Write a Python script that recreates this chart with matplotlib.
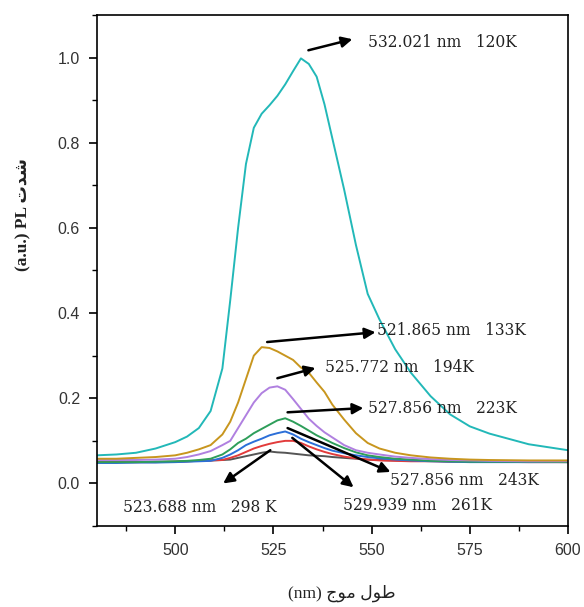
import matplotlib.pyplot as plt
from matplotlib.ticker import MultipleLocator

# wavelength grid (nm)
wl = [480, 485, 490, 495, 500, 503, 506, 509, 512, 514, 516, 518, 520, 522,
      524, 526, 528, 530, 532, 534, 536, 538, 540, 543, 546, 549, 552, 556,
      560, 565, 570, 575, 580, 590, 600]

# PL intensity at each temperature
pl_120 = [0.066, 0.068, 0.072, 0.082, 0.097, 0.11, 0.13, 0.17, 0.27, 0.43,
          0.60, 0.75, 0.835, 0.868, 0.888, 0.91, 0.937, 0.968, 0.998, 0.985,
          0.955, 0.89, 0.81, 0.69, 0.56, 0.445, 0.385, 0.315, 0.26, 0.205,
          0.162, 0.134, 0.117, 0.092, 0.078]
pl_133 = [0.058, 0.058, 0.06, 0.062, 0.066, 0.072, 0.08, 0.09, 0.115, 0.145,
          0.19, 0.245, 0.30, 0.32, 0.318, 0.31, 0.30, 0.29, 0.272, 0.26,
          0.237, 0.215, 0.185, 0.15, 0.118, 0.095, 0.082, 0.072, 0.066, 0.061,
          0.058, 0.056, 0.055, 0.054, 0.054]
pl_194 = [0.055, 0.055, 0.055, 0.056, 0.058, 0.062, 0.068, 0.076, 0.09, 0.10,
          0.13, 0.16, 0.19, 0.212, 0.225, 0.228, 0.22, 0.198, 0.175, 0.152,
          0.135, 0.12, 0.108, 0.09, 0.078, 0.072, 0.068, 0.063, 0.06, 0.057,
          0.055, 0.054, 0.053, 0.052, 0.052]
pl_223 = [0.05, 0.05, 0.05, 0.051, 0.052, 0.053, 0.055, 0.058, 0.068, 0.08,
          0.095, 0.105, 0.118, 0.128, 0.138, 0.148, 0.153, 0.145, 0.135, 0.124,
          0.113, 0.104, 0.095, 0.083, 0.073, 0.066, 0.062, 0.058, 0.056, 0.053,
          0.052, 0.051, 0.051, 0.051, 0.05]
pl_243 = [0.048, 0.048, 0.049, 0.049, 0.05, 0.051, 0.052, 0.053, 0.06, 0.068,
          0.078, 0.09, 0.098, 0.105, 0.113, 0.118, 0.122, 0.115, 0.105, 0.097,
          0.09, 0.083, 0.077, 0.071, 0.066, 0.062, 0.059, 0.056, 0.054, 0.052,
          0.051, 0.05, 0.05, 0.05, 0.05]
pl_261 = [0.05, 0.05, 0.05, 0.05, 0.051, 0.052, 0.053, 0.054, 0.055, 0.06,
          0.066, 0.074, 0.082, 0.088, 0.093, 0.097, 0.10, 0.10, 0.095, 0.087,
          0.08, 0.074, 0.069, 0.063, 0.059, 0.056, 0.054, 0.053, 0.052, 0.052,
          0.051, 0.051, 0.051, 0.05, 0.05]
pl_298 = [0.05, 0.05, 0.05, 0.051, 0.051, 0.052, 0.053, 0.054, 0.055, 0.056,
          0.06, 0.064, 0.068, 0.072, 0.075, 0.073, 0.072, 0.07, 0.068, 0.066,
          0.065, 0.064, 0.062, 0.06, 0.058, 0.056, 0.055, 0.054, 0.053, 0.053,
          0.052, 0.052, 0.052, 0.052, 0.052]

series = [pl_298, pl_261, pl_243, pl_223, pl_194, pl_133, pl_120]
colors = ['#555555', '#e23b3b', '#2c6fd8', '#2e9e5a', '#b080e0', '#c8961e', '#22b8b8']

# peak labels: text, arrow tail, arrow head, text position
peak_labels = ['532.021 nm   120K', '521.865 nm   133K', '525.772 nm   194K',
               '527.856 nm   223K', '527.856 nm   243K', '529.939 nm   261K',
               '523.688 nm   298 K']
arrow_tail = [(533.9, 1.017), (523.4, 0.332), (526.0, 0.247), (528.6, 0.167),
              (528.6, 0.130), (529.8, 0.107), (524.2, 0.078)]
arrow_head = [(545.1, 1.043), (551.0, 0.355), (535.7, 0.271), (547.9, 0.177),
              (554.8, 0.027), (545.4, -0.009), (512.2, 0.0)]
text_pos = [(549.0, 1.036), (551.3, 0.360), (538.2, 0.273), (549.0, 0.177),
            (554.8, 0.008), (542.8, -0.051), (486.7, -0.056)]

fig = plt.figure(figsize=(5.84, 6.07), dpi=100)
ax = fig.add_axes([0.1656, 0.1334, 0.807, 0.842])

for y, c in zip(series, colors):
    ax.plot(wl, y, color=c, lw=1.4)

for lab, t, h, p in zip(peak_labels, arrow_tail, arrow_head, text_pos):
    ax.annotate('', xy=h, xytext=t,
                arrowprops=dict(arrowstyle='-|>', color='black', lw=1.8,
                                mutation_scale=16, shrinkA=0, shrinkB=0))
    ax.text(p[0], p[1], lab, family='DejaVu Serif', fontsize=11.2,
            ha='left', va='center', color='#222222')

ax.set_xlim(480, 600)
ax.set_ylim(-0.1, 1.1)
ax.xaxis.set_major_locator(MultipleLocator(25))
ax.xaxis.set_minor_locator(MultipleLocator(12.5))
ax.yaxis.set_major_locator(MultipleLocator(0.2))
ax.yaxis.set_minor_locator(MultipleLocator(0.1))
ax.set_xticks([500, 525, 550, 575, 600])
ax.tick_params(which='major', length=6, width=1.2, labelsize=11.5, pad=6)
ax.tick_params(which='minor', length=3.5, width=1.0)
for lbl in ax.get_xticklabels() + ax.get_yticklabels():
    lbl.set_family(['Liberation Sans Narrow', 'Liberation Sans'])
    lbl.set_color('#333333')
for s in ax.spines.values():
    s.set_linewidth(1.2)

# axis titles (Arabic letters given in their joined display forms)
fig.text(0.586, 0.023, '(nm) \ufe9d\ufeee\ufee3 \ufedd\ufeee\ufec3',
         family=['Liberation Serif', 'DejaVu Sans'], fontsize=12.5,
         ha='center', va='center', color='#222222')
fig.text(0.04, 0.646, '(a.u.) PL \ufe95\ufeaa\ufeb7', rotation=90,
         family=['Liberation Serif', 'DejaVu Sans'], fontsize=12.5,
         fontweight='bold', ha='center', va='center', color='#222222')

fig.savefig('out.png', dpi=100)
